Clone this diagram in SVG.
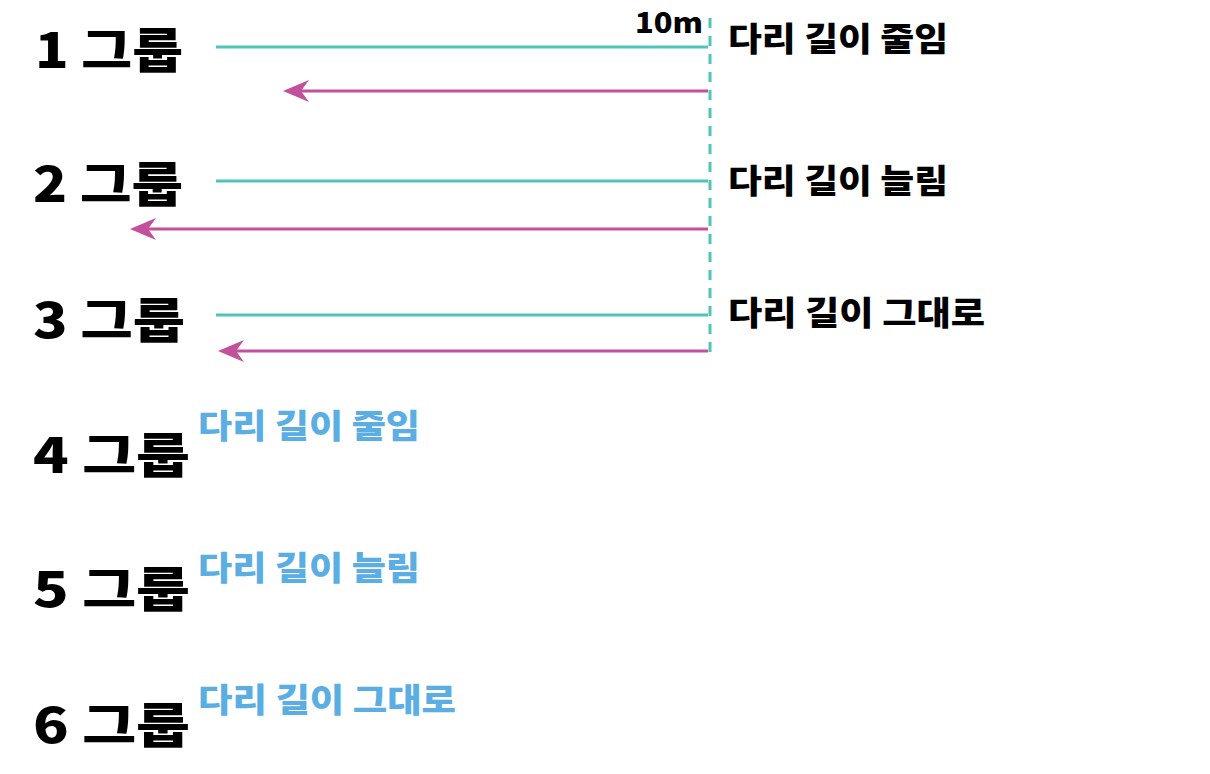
<svg xmlns="http://www.w3.org/2000/svg" width="1210" height="774" viewBox="0 0 1210 774">
<style>
.grp{font-family:"Noto Sans CJK KR","Noto Sans",sans-serif;font-weight:900;font-size:48px;fill:#000}
.lbl{font-family:"Noto Sans CJK KR","Noto Sans",sans-serif;font-weight:900;font-size:33px;fill:#000}
.blue{font-family:"Noto Sans CJK KR","Noto Sans",sans-serif;font-weight:900;font-size:33px;fill:#5aaee3}
.unit{font-family:"Noto Sans CJK KR","Noto Sans",sans-serif;font-weight:900;font-size:28px;fill:#000}
.teal{stroke:#4fc4b8;stroke-width:3;fill:none}
.mag{stroke:#c2509a;stroke-width:3;fill:none}
</style>
<defs>
<marker id="ah" markerUnits="userSpaceOnUse" markerWidth="30" markerHeight="26" refX="22" refY="13" orient="auto">
<path d="M28,13 L2,2 L10,13 L2,24 Z" fill="#c2509a"/>
</marker>
</defs>
<rect width="1210" height="774" fill="#fff"/>
<g id="connectors">
<line class="teal" x1="710" y1="18" x2="710" y2="352" stroke-dasharray="10,8"/>
<line class="teal" x1="216" y1="47" x2="708" y2="47"/>
<line class="mag" x1="708" y1="91" x2="289" y2="91" marker-end="url(#ah)"/>
<line class="teal" x1="216" y1="181" x2="708" y2="181"/>
<line class="mag" x1="708" y1="229" x2="136" y2="229" marker-end="url(#ah)"/>
<line class="teal" x1="216" y1="315" x2="708" y2="315"/>
<line class="mag" x1="708" y1="351" x2="224" y2="351" marker-end="url(#ah)"/>
</g>
<g id="unit"><text class="unit" x="635" y="33" textLength="68" lengthAdjust="spacingAndGlyphs">10m</text></g>
<g id="group1"><text class="grp" x="35" y="68" textLength="148" lengthAdjust="spacingAndGlyphs">1 그룹</text></g>
<g id="group2"><text class="grp" x="33" y="202" textLength="150" lengthAdjust="spacingAndGlyphs">2 그룹</text></g>
<g id="group3"><text class="grp" x="33" y="338" textLength="152" lengthAdjust="spacingAndGlyphs">3 그룹</text></g>
<g id="group4"><text class="grp" x="33" y="473" textLength="157" lengthAdjust="spacingAndGlyphs">4 그룹</text><text class="blue" x="198" y="438" textLength="222" lengthAdjust="spacingAndGlyphs">다리 길이 줄임</text></g>
<g id="group5"><text class="grp" x="33" y="607" textLength="157" lengthAdjust="spacingAndGlyphs">5 그룹</text><text class="blue" x="198" y="580" textLength="222" lengthAdjust="spacingAndGlyphs">다리 길이 늘림</text></g>
<g id="group6"><text class="grp" x="33" y="743" textLength="157" lengthAdjust="spacingAndGlyphs">6 그룹</text><text class="blue" x="198" y="712" textLength="258" lengthAdjust="spacingAndGlyphs">다리 길이 그대로</text></g>
<g id="label1"><text class="lbl" x="728" y="51" textLength="220" lengthAdjust="spacingAndGlyphs">다리 길이 줄임</text></g>
<g id="label2"><text class="lbl" x="728" y="193" textLength="220" lengthAdjust="spacingAndGlyphs">다리 길이 늘림</text></g>
<g id="label3"><text class="lbl" x="728" y="325" textLength="257" lengthAdjust="spacingAndGlyphs">다리 길이 그대로</text></g>
</svg>
